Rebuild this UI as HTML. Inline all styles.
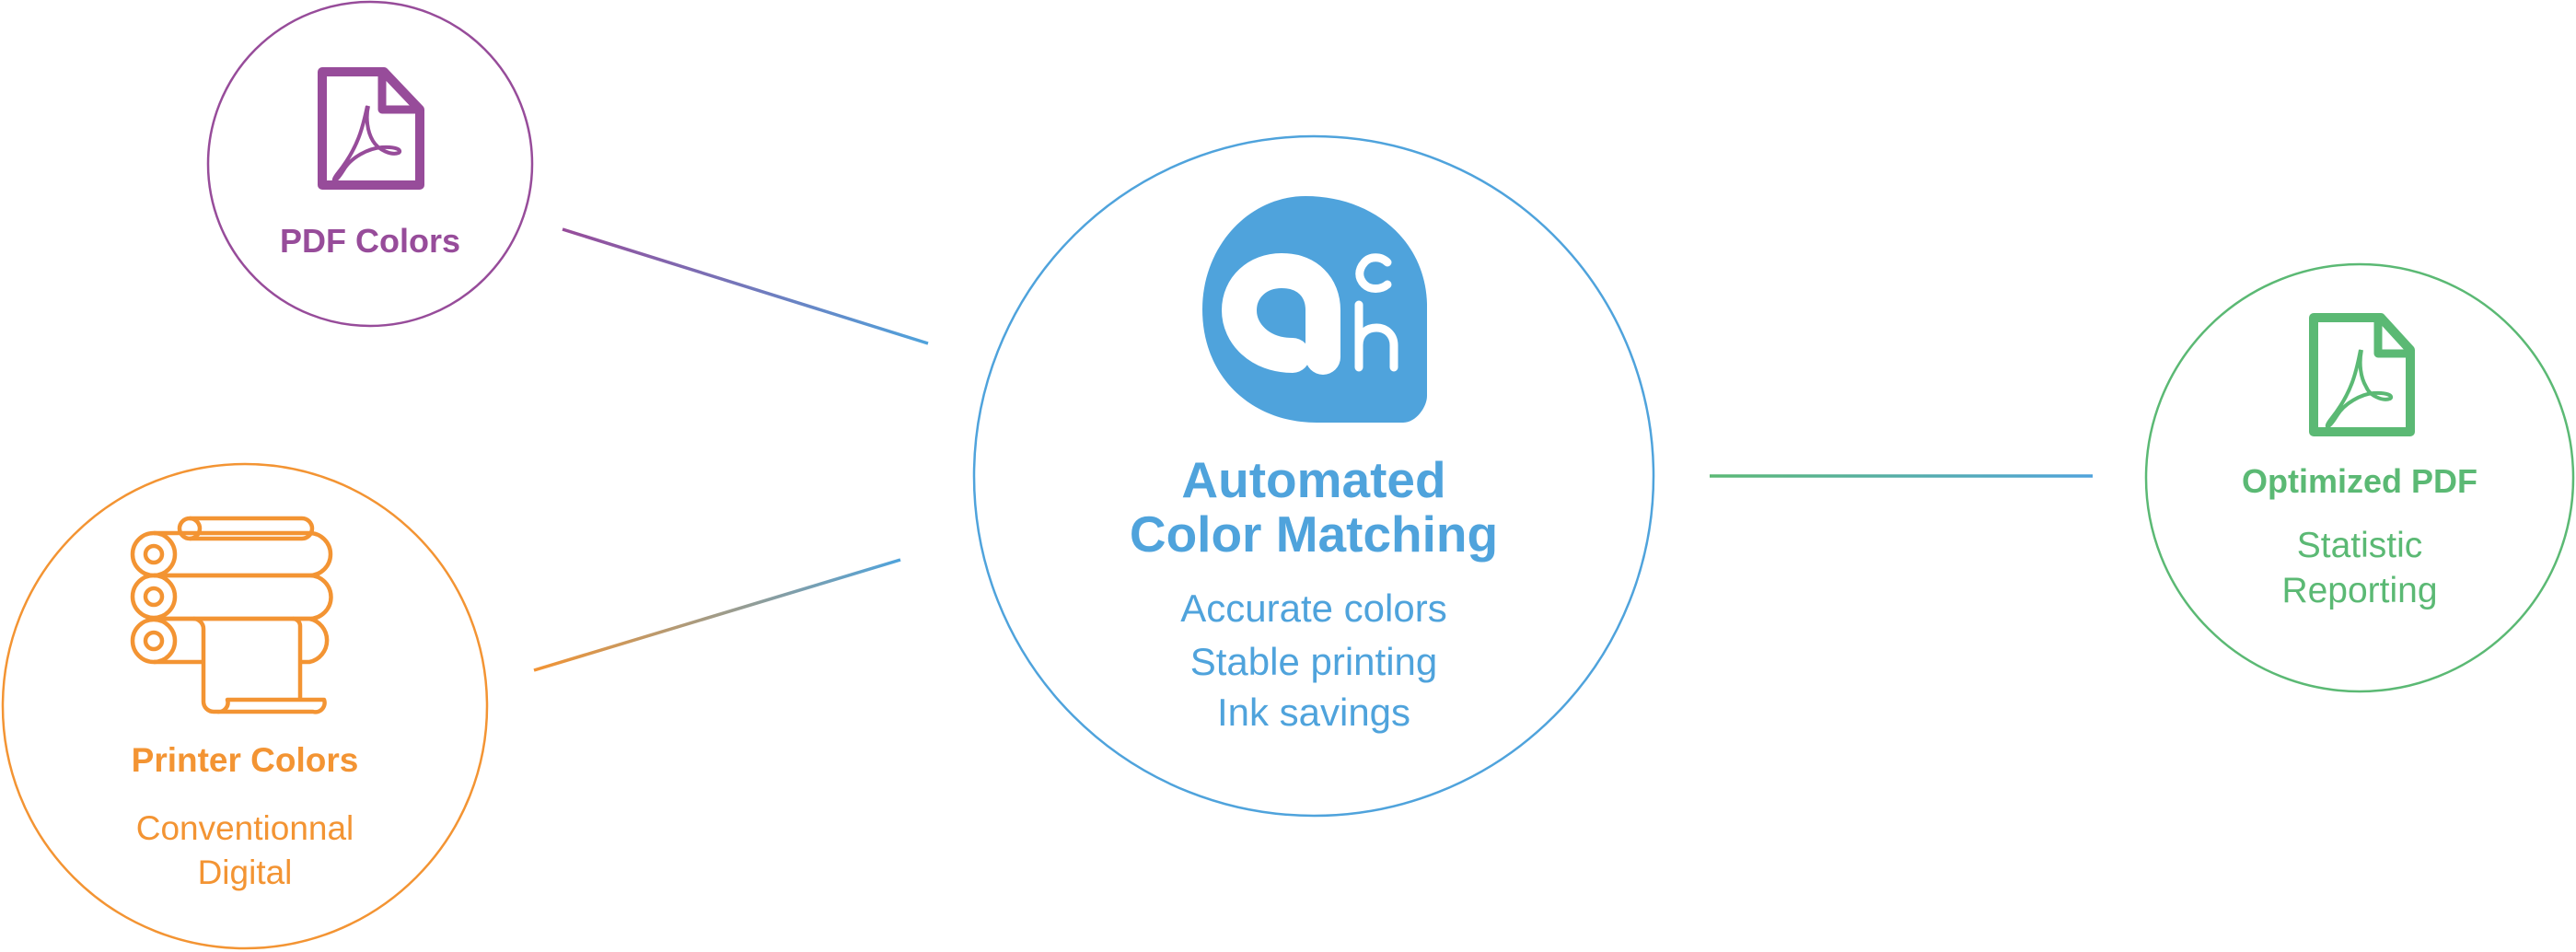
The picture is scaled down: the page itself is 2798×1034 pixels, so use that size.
<!DOCTYPE html>
<html><head><meta charset="utf-8">
<style>
html,body{margin:0;padding:0;background:#fff;}
body{width:2798px;height:1034px;overflow:hidden;position:relative;font-family:"Liberation Sans",sans-serif;}
svg{position:absolute;left:0;top:0;}
</style></head><body>
<svg width="2798" height="1034" viewBox="0 0 2798 1034">
<defs>
<linearGradient id="g1" gradientUnits="userSpaceOnUse" x1="611" y1="249" x2="1008" y2="373"><stop offset="0" stop-color="#974c9a"/><stop offset="1" stop-color="#4fa3dc"/></linearGradient>
<linearGradient id="g2" gradientUnits="userSpaceOnUse" x1="580" y1="728" x2="978" y2="608"><stop offset="0" stop-color="#f39433"/><stop offset="1" stop-color="#4fa3dc"/></linearGradient>
<linearGradient id="g3" gradientUnits="userSpaceOnUse" x1="1857" y1="517" x2="2273" y2="517"><stop offset="0" stop-color="#5bb974"/><stop offset="1" stop-color="#4fa3dc"/></linearGradient>
</defs>
<line x1="611" y1="249" x2="1008" y2="373" stroke="url(#g1)" stroke-width="3.5"/>
<line x1="580" y1="728" x2="978" y2="608" stroke="url(#g2)" stroke-width="3.5"/>
<line x1="1857" y1="517" x2="2273" y2="517" stroke="url(#g3)" stroke-width="3.5"/>
<circle cx="402" cy="178" r="176" fill="none" stroke="#974c9a" stroke-width="2.5"/>
<circle cx="266" cy="767" r="263" fill="none" stroke="#f39433" stroke-width="2.5"/>
<circle cx="1427" cy="517" r="369" fill="none" stroke="#4fa3dc" stroke-width="2.5"/>
<circle cx="2563" cy="519" r="232" fill="none" stroke="#5bb974" stroke-width="2.5"/>

<g transform="translate(345,73)" fill="none" stroke="#974c9a" stroke-width="10" stroke-linejoin="round">
<path d="M5,5 H72 L111,46 V128 H5 Z"/>
<path d="M70,5 V46 H111" stroke-width="9"/>
<path d="M54,42 C50,60 46,85 22,115 C14,125 18,128 28,112 C36,98 55,88 70,87 C85,86 92,90 88,93 C80,96 66,90 60,80 C54,70 52,55 55,42" stroke-width="4"/>
</g>
<g transform="translate(2508,340)" fill="none" stroke="#5bb974" stroke-width="10" stroke-linejoin="round">
<path d="M5,5 H78 L110,40 V129 H5 Z"/>
<path d="M75,5 V44 H110" stroke-width="9"/>
<path d="M56,40 C52,60 48,85 24,115 C16,125 20,128 30,112 C38,98 57,88 70,87 C85,86 92,90 88,93 C80,96 66,90 62,80 C56,70 54,55 57,40" stroke-width="4"/>
</g>

<g fill="none" stroke="#f39433" stroke-width="4.5" stroke-linejoin="round">
<path d="M206,563 H328 A11,11 0 0 1 328,585 H206"/>
<circle cx="206" cy="574" r="11"/>
<path d="M167,579 H336 A23,23 0 0 1 336,625 H167"/>
<circle cx="167" cy="602" r="23"/><circle cx="167" cy="602" r="9"/>
<path d="M167,625 H336 A23,23 0 0 1 336,672 H167"/>
<circle cx="167" cy="648" r="23"/><circle cx="167" cy="648" r="9"/>
<path d="M167,672 H336 A24,24 0 0 1 336,719 H326"/>
<circle cx="167" cy="696" r="23"/><circle cx="167" cy="696" r="9"/>
<path d="M167,719 H221"/>
<path d="M210,672 A11,11 0 0 1 221,683 V762 A11,11 0 0 0 232,773 H340 A10,10 0 0 0 352,760 H247 A10,10 0 0 1 236,773"/>
<path d="M318,672 A8,8 0 0 1 326,680 V760"/>
</g>

<path d="M1418,213 C1490,213 1548,260 1550,330 L1550,430 C1550,442 1538,459 1524,459 L1430,459 C1360,459 1306,410 1306,336 C1306,268 1356,213 1418,213 Z" fill="#4fa3dc"/>
<g fill="none" stroke="#fff" stroke-linecap="round">
<path d="M1404,386 C1368,386 1346,362 1346,337 C1346,312 1366,294 1392,294 C1420,294 1437,312 1437,337 L1437,388" stroke-width="38"/>
<path d="M1507,285 C1500,278 1488,278 1482,285 C1475,293 1475,302 1482,309 C1488,315 1500,315 1507,309" stroke-width="9"/>
<path d="M1476,331 L1476,399 M1476,375 C1476,362 1485,356 1495,356 C1506,356 1514,364 1514,375 L1514,399" stroke-width="9"/>
</g>

<g font-family="Liberation Sans, sans-serif" text-anchor="middle">
<text x="402" y="274" font-size="36" font-weight="bold" fill="#974c9a">PDF Colors</text>
<text x="266" y="838" font-size="37" font-weight="bold" fill="#f39433">Printer Colors</text>
<text x="266" y="912" font-size="37" fill="#f39433">Conventionnal</text>
<text x="266" y="960" font-size="37" fill="#f39433">Digital</text>
<text x="1427" y="540" font-size="55" font-weight="bold" fill="#4fa3dc">Automated</text>
<text x="1427" y="599" font-size="55" font-weight="bold" fill="#4fa3dc">Color Matching</text>
<text x="1427" y="675" font-size="42" fill="#4fa3dc">Accurate colors</text>
<text x="1427" y="733" font-size="42" fill="#4fa3dc">Stable printing</text>
<text x="1427" y="788" font-size="42" fill="#4fa3dc">Ink savings</text>
<text x="2563" y="535" font-size="36" font-weight="bold" fill="#5bb974">Optimized PDF</text>
<text x="2563" y="605" font-size="39" fill="#5bb974">Statistic</text>
<text x="2563" y="654" font-size="39" fill="#5bb974">Reporting</text>
</g>
</svg>
</body></html>
